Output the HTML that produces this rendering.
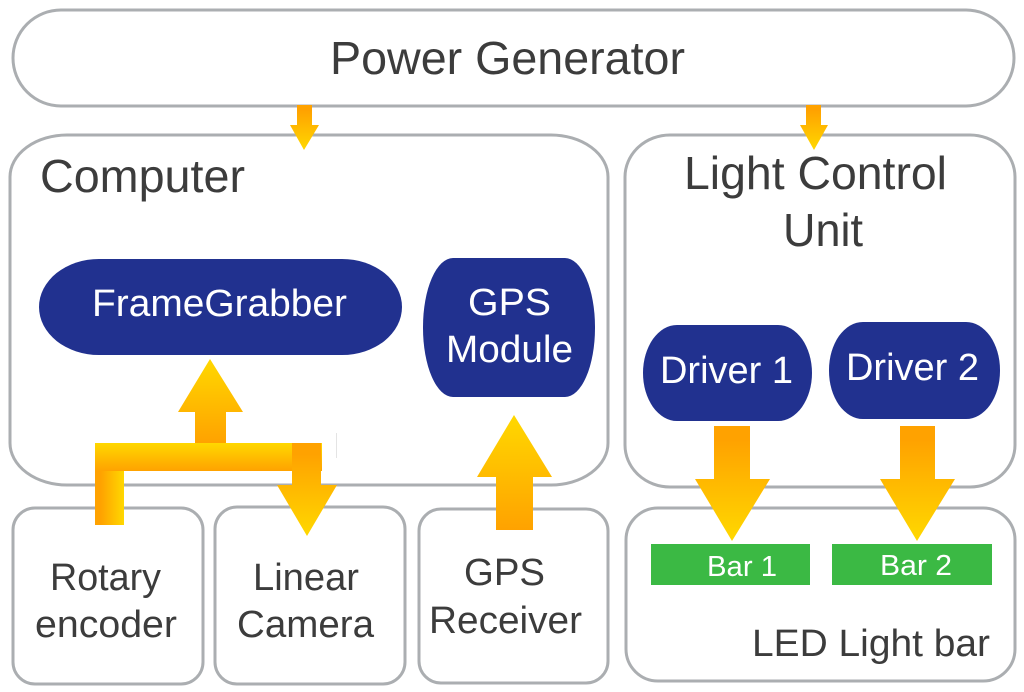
<!DOCTYPE html>
<html><head><meta charset="utf-8"><style>
html,body{margin:0;padding:0;background:#fff;width:1024px;height:692px;overflow:hidden}
svg{display:block}
text{font-family:"Liberation Sans",sans-serif;fill:#3c3c3c}
text.w{fill:#fff}
</style></head><body>
<svg width="1024" height="692" viewBox="0 0 1024 692" xmlns="http://www.w3.org/2000/svg">
<defs>
<linearGradient id="d" x1="0" y1="0" x2="0" y2="1"><stop offset="0.12" stop-color="#ffa200"/><stop offset="1" stop-color="#ffd800"/></linearGradient>
<linearGradient id="u" x1="0" y1="0" x2="0" y2="1"><stop offset="0" stop-color="#ffd800"/><stop offset="1" stop-color="#ffa200"/></linearGradient>
<linearGradient id="h" x1="0" y1="0" x2="1" y2="0"><stop offset="0.2" stop-color="#ffa200"/><stop offset="1" stop-color="#ffd800"/></linearGradient>
</defs>
<g fill="#fff" stroke="#abaeb1" stroke-width="3">
<rect x="13" y="10" width="1001" height="96" rx="48"/>
<rect x="10" y="135" width="598" height="350" rx="57" ry="42"/>
<rect x="625" y="135" width="390" height="352" rx="45" ry="42"/>
<rect x="13" y="508" width="190" height="176" rx="22"/>
<rect x="215" y="507" width="190" height="177" rx="22"/>
<rect x="419" y="509" width="189" height="174" rx="22"/>
<rect x="626" y="508" width="389" height="173" rx="32"/>
</g>
<g fill="#21318f">
<rect x="39" y="259" width="363" height="96" rx="60" ry="48"/>
<rect x="423" y="258" width="172" height="139" rx="30" ry="69"/>
<rect x="643" y="325" width="169" height="96" rx="34" ry="48"/>
<rect x="829" y="322" width="171" height="97" rx="34" ry="48"/>
</g>
<rect x="651" y="544" width="159" height="41" fill="#3bb944"/>
<rect x="832" y="544" width="160" height="41" fill="#3bb944"/>
<path d="M297 105H312V125H319L304 150L290 125H297Z" fill="url(#d)"/>
<path d="M806 105H821V125H828L814 150L800 125H806Z" fill="url(#d)"/>
<path d="M210 359L243 412H226V443H195V412H178Z" fill="url(#u)"/>
<rect x="95" y="471" width="29" height="54" fill="url(#h)"/>
<rect x="95" y="443" width="227" height="28" fill="url(#u)"/>
<path d="M292 443H321V485H337L307 536L277 485H292Z" fill="url(#d)"/>
<rect x="336" y="433" width="1" height="25" fill="#e4e4e4"/>
<path d="M514 415L552 477H533V530H496V477H477Z" fill="url(#u)"/>
<path d="M714 426H750V479H770L732 541L695 479H714Z" fill="url(#d)"/>
<path d="M900 426H935V479H955L917 541L880 479H900Z" fill="url(#d)"/>
<g lengthAdjust="spacingAndGlyphs">
<text x="330" y="74" font-size="46" textLength="355" lengthAdjust="spacingAndGlyphs">Power Generator</text>
<text x="40" y="192" font-size="46" textLength="205" lengthAdjust="spacingAndGlyphs">Computer</text>
<text x="684" y="189" font-size="46" textLength="263" lengthAdjust="spacingAndGlyphs">Light Control</text>
<text x="783" y="246" font-size="46" textLength="80" lengthAdjust="spacingAndGlyphs">Unit</text>
<text class="w" x="92" y="316" font-size="38" textLength="255" lengthAdjust="spacingAndGlyphs">FrameGrabber</text>
<text class="w" x="468" y="315" font-size="38" textLength="83" lengthAdjust="spacingAndGlyphs">GPS</text>
<text class="w" x="446" y="362" font-size="38" textLength="127" lengthAdjust="spacingAndGlyphs">Module</text>
<text class="w" x="660" y="383" font-size="38" textLength="133" lengthAdjust="spacingAndGlyphs">Driver 1</text>
<text class="w" x="846" y="380" font-size="38" textLength="133" lengthAdjust="spacingAndGlyphs">Driver 2</text>
<text class="w" x="707" y="576" font-size="29" textLength="70" lengthAdjust="spacingAndGlyphs">Bar 1</text>
<text class="w" x="880" y="575" font-size="29" textLength="72" lengthAdjust="spacingAndGlyphs">Bar 2</text>
<text x="50" y="590" font-size="38" textLength="111" lengthAdjust="spacingAndGlyphs">Rotary</text>
<text x="35" y="637" font-size="38" textLength="142" lengthAdjust="spacingAndGlyphs">encoder</text>
<text x="253" y="590" font-size="38" textLength="106" lengthAdjust="spacingAndGlyphs">Linear</text>
<text x="237" y="637" font-size="38" textLength="137" lengthAdjust="spacingAndGlyphs">Camera</text>
<text x="464" y="585" font-size="38" textLength="81" lengthAdjust="spacingAndGlyphs">GPS</text>
<text x="429" y="633" font-size="38" textLength="153" lengthAdjust="spacingAndGlyphs">Receiver</text>
<text x="752" y="656" font-size="38" textLength="238" lengthAdjust="spacingAndGlyphs">LED Light bar</text>
</g>
</svg>
</body></html>
